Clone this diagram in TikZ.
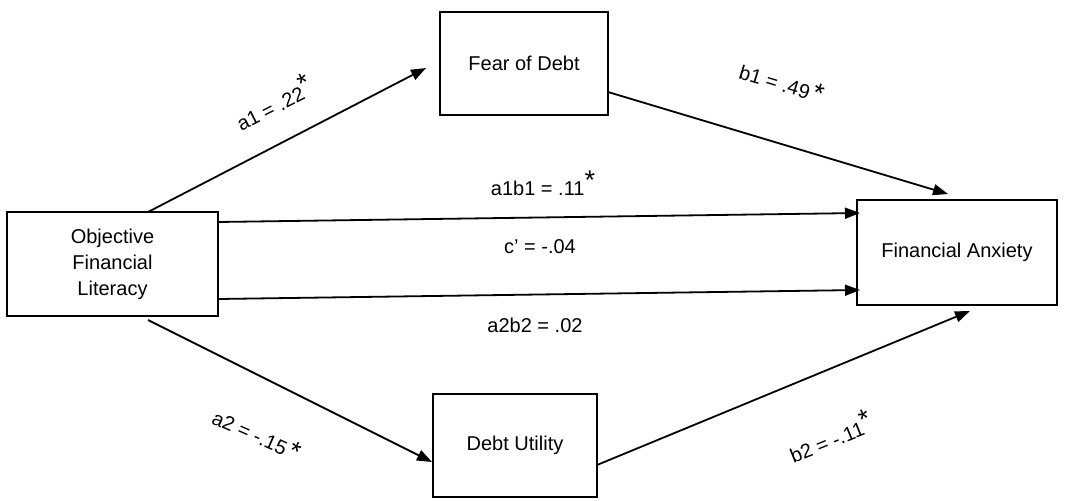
\documentclass[tikz,border=0pt]{standalone}
\usepackage{fontspec}
\setmainfont{Liberation Sans}
\usetikzlibrary{arrows.meta}
\tikzset{
  box/.style={draw, line width=1.6pt, inner sep=0pt, align=center, font=\fontsize{20}{26}\selectfont},
  arr/.style={line width=1.8pt, -{Triangle[length=15pt,width=11pt]}},
  lab/.style={font=\fontsize{20}{24}\selectfont, inner sep=0pt}
}
\newcommand{\sig}{\raisebox{0.3em}{\scalebox{1.35}{*}}}
\newcommand{\sigin}{\,\scalebox{1.35}{*}}
\begin{document}
\begin{tikzpicture}[x=1pt,y=-1pt]
\useasboundingbox (0,0) rectangle (1069,501);
% boxes
\node[box, minimum width=211pt, minimum height=104pt] (ofl) at (112.5,264) {Objective\\Financial\\Literacy};
\node[box, minimum width=168pt, minimum height=103pt] (fod) at (524,63.5) {Fear of Debt};
\node[box, minimum width=200pt, minimum height=105pt] (fa) at (957,252.5) {Financial Anxiety};
\node[box, minimum width=164pt, minimum height=103pt] (du) at (515,445.5) {Debt Utility};
% coordinates
\coordinate (a1s) at (148,212);
\coordinate (a1e) at (426,68);
\coordinate (b1s) at (608,92);
\coordinate (b1e) at (948,194);
\coordinate (m1s) at (218,222);
\coordinate (m1e) at (860,213);
\coordinate (m2s) at (218,299);
\coordinate (m2e) at (860,290);
\coordinate (a2s) at (148,320);
\coordinate (a2e) at (432,462);
\coordinate (b2s) at (597,465);
\coordinate (b2e) at (970,311);
% arrows
\draw[arr] (a1s) -- (a1e);
\draw[arr] (b1s) -- (b1e);
\draw[arr] (m1s) -- (m1e);
\draw[arr] (m2s) -- (m2e);
\draw[arr] (a2s) -- (a2e);
\draw[arr] (b2s) -- (b2e);
% labels
\node[lab, rotate=27] (la1) at (273,102) {a1 = .22\sig};
\node[lab, rotate=-17] (lb1) at (782,82) {b1 = .49\sigin};
\node[lab] (lm1) at (543,183) {a1b1 = .11\sig};
\node[lab] (lc) at (540,247) {c’ = -.04};
\node[lab] (lm2) at (535,325) {a2b2 = .02};
\node[lab, rotate=-24] (la2) at (257,434) {a2 = -.15\sigin};
\node[lab, rotate=22] (lb2) at (830,436) {b2 = -.11\sig};
\end{tikzpicture}
\end{document}
